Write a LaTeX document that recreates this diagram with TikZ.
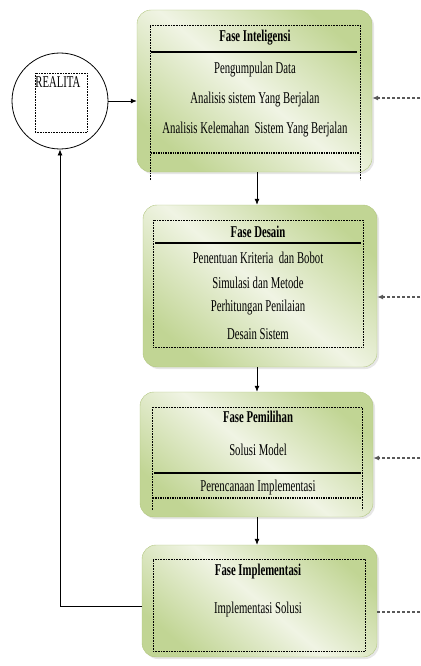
\documentclass[tikz,border=0pt]{standalone}
\usepackage{fontspec}
\setmainfont{Liberation Serif}[FakeStretch=0.65]
\usepackage{tikz}
\usetikzlibrary{positioning,arrows.meta,calc,shadows}
\definecolor{boxgreen}{RGB}{193,213,148}
\definecolor{boxlight}{RGB}{240,244,228}
\definecolor{boxedge}{RGB}{178,198,128}

\begin{document}
\begin{tikzpicture}[x=1pt, y=-1pt,
  box/.style={draw=boxedge, rounded corners=14pt, top color=boxgreen, bottom color=boxgreen, middle color=boxlight, shading angle=-40, drop shadow={shadow xshift=2pt, shadow yshift=-2pt, opacity=0.2, fill=gray}},
  inbox/.style={draw, densely dotted, line width=0.6pt},
  txt/.style={inner sep=0pt, font=\fontsize{16.5}{18}\selectfont},
  head/.style={inner sep=0pt, font=\fontsize{16.5}{18}\selectfont\bfseries},
  arr/.style={-{Latex[length=6pt,width=5pt]}, line width=0.8pt},
  dasharr/.style={-{Latex[length=6pt,width=5pt]}, line width=1.4pt, gray!70!black, dash pattern=on 3pt off 2pt},
  sep/.style={line width=1.1pt},
  dsep/.style={line width=1.4pt, densely dotted},
]
\useasboundingbox (0,0) rectangle (420,666);

% boxes
\node[box, minimum width=235pt, minimum height=162pt] (b1) at (254.5,91) {};
\node[box, minimum width=234pt, minimum height=162pt] (b2) at (260,286) {};
\node[box, minimum width=233pt, minimum height=125pt] (b3) at (256.5,454.5) {};
\node[box, minimum width=235pt, minimum height=112pt] (b4) at (259.5,601) {};

% realita
\node[draw, circle, line width=0.8pt, minimum size=96pt] (real) at (60,101) {};
\node[inbox, minimum width=52pt, minimum height=59pt] (realin) at (61,102.5) {};
\node[txt, anchor=north west] (realtxt) at ($(realin.north west)+(0.5,4)$) {REALITA};

% fase inteligensi
\draw[inbox] (150,180) -- (150,25) -- (360,25) -- (360,180);
\node[head] (h1) at (255,38) {Fase Inteligensi};
\draw[sep] (151,52) -- (357,52);
\node[txt] (t11) at (255,70) {Pengumpulan Data};
\node[txt] (t12) at (255,100) {Analisis sistem Yang Berjalan};
\node[txt] (t13) at (255,130) {Analisis Kelemahan\ \ Sistem Yang Berjalan};
\draw[dsep] (151,153) -- (359,153);

% fase desain
\node[inbox, minimum width=210pt, minimum height=127pt] (in2) at (258,283.5) {};
\node[head] (h2) at (258,232) {Fase Desain};
\draw[sep] (155,243) -- (361,243);
\node[txt] (t21) at (258,258) {Penentuan Kriteria\ \ dan Bobot};
\node[txt] (t22) at (258,283) {Simulasi dan Metode};
\node[txt] (t23) at (258,308) {Perhitungan Penilaian};
\node[txt] (t24) at (258,334) {Desain Sistem};

% fase pemilihan
\draw[inbox] (152,510) -- (152,407) -- (362,407) -- (362,510);
\node[head] (h3) at (258,417) {Fase Pemilihan};
\node[txt] (t31) at (258,450) {Solusi Model};
\draw[sep] (154,473) -- (361,473);
\node[txt] (t32) at (258,488) {Perencanaan Implementasi};
\draw[dsep] (153,498) -- (361,498);

% fase implementasi
\node[inbox, minimum width=212pt, minimum height=92pt] (in4) at (259,605) {};
\node[head] (h4) at (258,572) {Fase Implementasi};
\node[txt] (t41) at (258,610) {Implementasi Solusi};

% connectors
\coordinate (ax) at (257,0);
\draw[arr] (real.east) -- (real.east -| b1.west);
\draw[arr] (b1.south -| ax) -- (b2.north -| ax);
\draw[arr] (b2.south -| ax) -- (b3.north -| ax);
\draw[arr] (b3.south -| ax) -- (b4.north -| ax);
\coordinate (fb) at (142,606);
\draw[arr] (fb) -| (real.south);

\coordinate (r1) at (420,98);
\coordinate (r2) at (420,297);
\coordinate (r3) at (420,458);
\coordinate (r4) at (420,612);
\draw[dasharr] (r1) -- (r1 -| b1.east);
\draw[dasharr] (r2) -- (r2 -| b2.east);
\draw[dasharr] (r3) -- (r3 -| b3.east);
\draw[dasharr, -] (r4 -| b4.east) -- (r4);
\end{tikzpicture}
\end{document}
